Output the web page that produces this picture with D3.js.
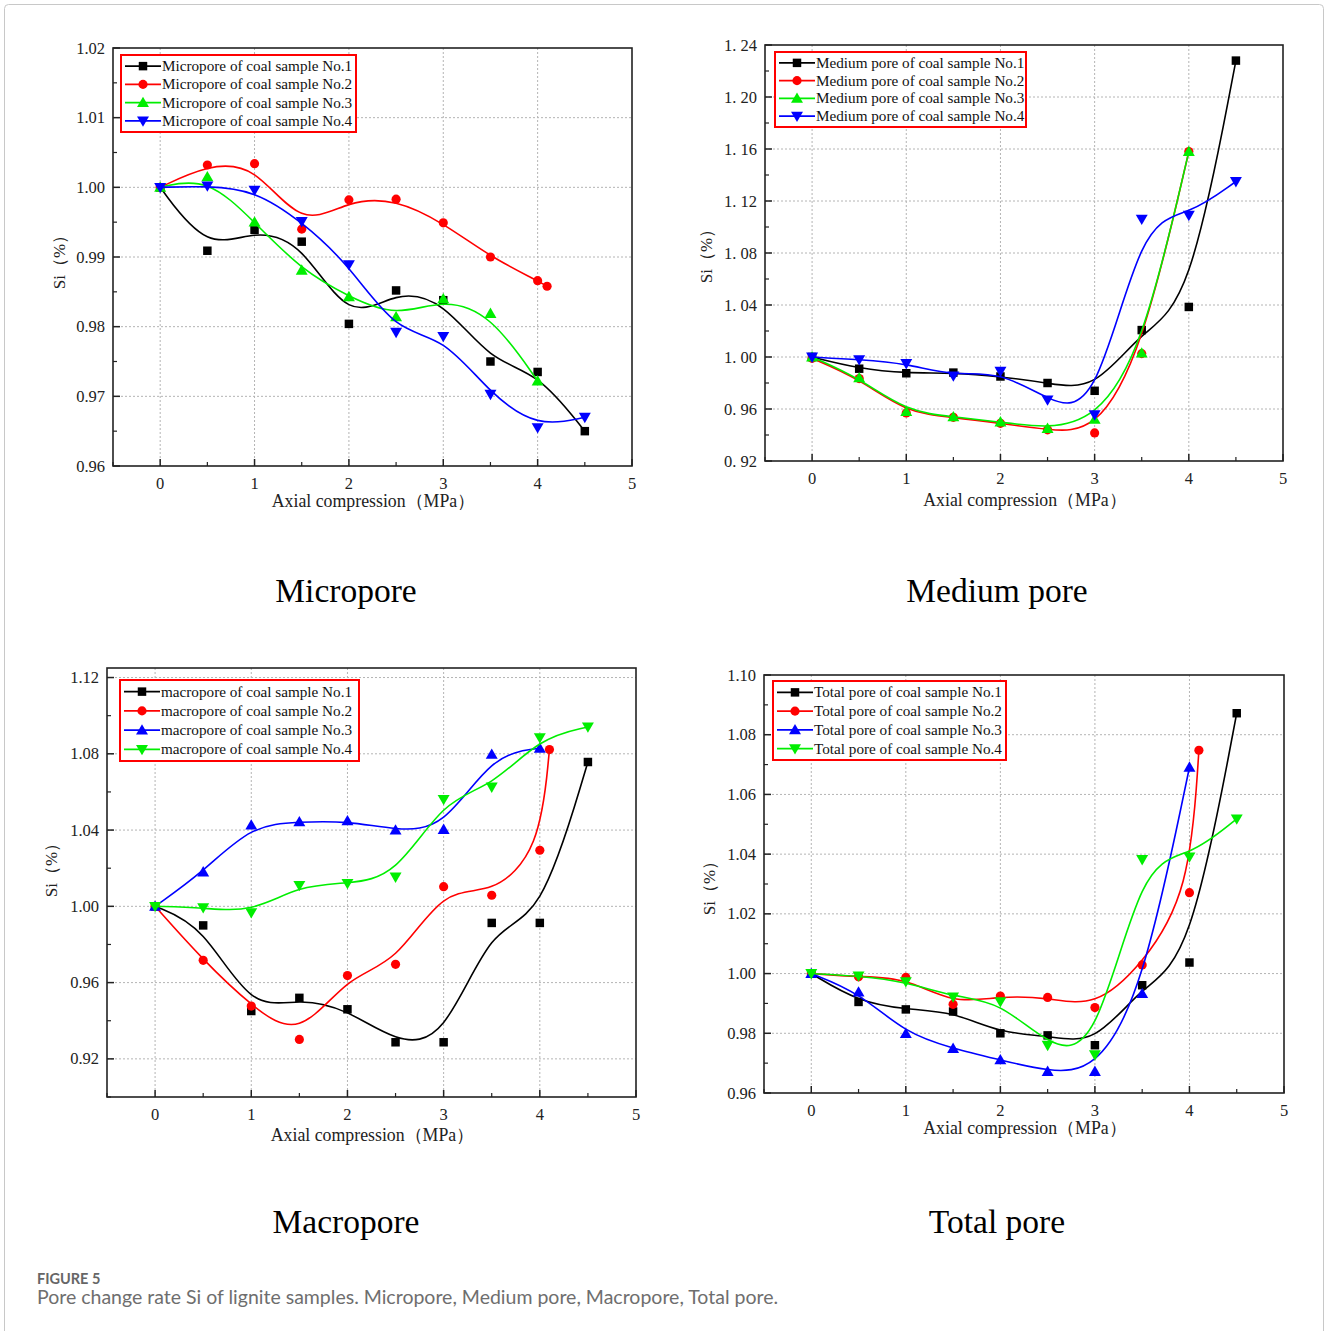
<!DOCTYPE html>
<html>
<head>
<meta charset="utf-8">
<script src="https://cdn.jsdelivr.net/npm/d3@7/dist/d3.min.js"></script>
<style>
  body { margin: 0; background: #fff; }
  svg text { font-family: "Liberation Serif", "Times New Roman", serif; }
</style>
</head>
<body>
<svg id="fig" width="1328" height="1331"></svg>
<script>
// x values (axial compression, MPa)
const pressure = [0, 0.5, 1, 1.5, 2, 2.5, 3, 3.5, 4, 4.5];
const pressureTo4 = [0, 0.5, 1, 1.5, 2, 2.5, 3, 3.5, 4];
const pressureTo41 = [0, 0.5, 1, 1.5, 2, 2.5, 3, 3.5, 4, 4.1];

// micropore Si
const microNo1 = [1.000, 0.9909, 0.9939, 0.9922, 0.9804, 0.9852, 0.9838, 0.9750, 0.9735, 0.9650];
const microNo2 = [1.000, 1.0032, 1.0034, 0.9940, 0.9982, 0.9983, 0.9949, 0.9900, 0.9866, 0.9858];
const microNo3 = [1.000, 1.0015, 0.9950, 0.9881, 0.9843, 0.9814, 0.9840, 0.9819, 0.9722];
const microNo4 = [1.000, 1.0002, 0.9996, 0.9951, 0.9889, 0.9792, 0.9786, 0.9703, 0.9655, 0.9670];

// medium pore Si
const mediumNo1 = [1.000, 0.991, 0.9875, 0.988, 0.985, 0.980, 0.974, 1.0207, 1.0385, 1.228];
const mediumNo2 = [0.999, 0.9834, 0.957, 0.9536, 0.949, 0.944, 0.9416, 1.0026, 1.158];
const mediumNo3 = [1.000, 0.984, 0.958, 0.954, 0.950, 0.945, 0.952, 1.003, 1.158];
const mediumNo4 = [1.000, 0.998, 0.995, 0.9855, 0.989, 0.967, 0.9556, 1.106, 1.109, 1.135];

// macropore Si
const macroNo1 = [1.000, 0.990, 0.9451, 0.952, 0.946, 0.9287, 0.9287, 0.9913, 0.9913, 1.0757];
const macroNo2 = [1.000, 0.9717, 0.9477, 0.9302, 0.9637, 0.9696, 1.0103, 1.0058, 1.0294, 1.0822];
const macroNo3 = [1.000, 1.018, 1.0426, 1.0443, 1.0448, 1.040, 1.0403, 1.0797, 1.0829];
const macroNo4 = [1.000, 0.9993, 0.9967, 1.011, 1.012, 1.0154, 1.0561, 1.0626, 1.0885, 1.0941];

// total pore Si
const totalNo1 = [1.000, 0.9905, 0.988, 0.9873, 0.980, 0.9793, 0.976, 0.9961, 1.0037, 1.0872];
const totalNo2 = [1.000, 0.9989, 0.9987, 0.9897, 0.9925, 0.9920, 0.9886, 1.0029, 1.0271, 1.0748];
const totalNo3 = [1.000, 0.9938, 0.9799, 0.9749, 0.9711, 0.9672, 0.9672, 0.9933, 1.0691];
const totalNo4 = [1.000, 0.9992, 0.9973, 0.9922, 0.9906, 0.976, 0.9728, 1.0382, 1.0391, 1.0518];

// axis ticks
const xTicks = [0, 1, 2, 3, 4, 5];
const microTicks = [0.96, 0.97, 0.98, 0.99, 1.00, 1.01, 1.02];
const mediumTicks = [0.92, 0.96, 1.00, 1.04, 1.08, 1.12, 1.16, 1.20, 1.24];
const macroTicks = [0.92, 0.96, 1.00, 1.04, 1.08, 1.12];
const totalTicks = [0.96, 0.98, 1.00, 1.02, 1.04, 1.06, 1.08, 1.10];

const panelTitles = ["Micropore", "Medium pore", "Macropore", "Total pore"];
const legendPrefixes = ["Micropore", "Medium pore", "macropore", "Total pore"];
const sampleNames = ["No.1", "No.2", "No.3", "No.4"];

const svg = d3.select("#fig");

// card border
svg.append("rect")
  .attr("x", 4.5).attr("y", 4.5).attr("width", 1319).attr("height", 1340)
  .attr("rx", 4)
  .attr("fill", "none").attr("stroke", "#c8c8c8");

const pair = (xs, ys) => ys.map((y, i) => [xs[i], y]);

const panels = [
  {
    box: {left: 113, right: 632, top: 48, bottom: 466}, yDomain: [0.96, 1.02], yTicks: microTicks, minorStep: 0.005,
    fmt: d3.format(".2f"), yTitle: [60, 262], xTitleDy: 41, captionXY: [346, 602],
    legend: {x: 121, y: 55, w: 235, h: 77},
    series: [pair(pressure, microNo1), pair(pressureTo41, microNo2), pair(pressureTo4, microNo3), pair(pressure, microNo4)],
    colors: ["#000000", "#ff0000", "#00ee00", "#0000ff"]
  },
  {
    box: {left: 765, right: 1283, top: 45, bottom: 461}, yDomain: [0.92, 1.24], yTicks: mediumTicks, minorStep: 0.02,
    fmt: d => d3.format(".2f")(d).replace(".", ". "), yTitle: [707, 256], xTitleDy: 45, captionXY: [997, 602],
    legend: {x: 775, y: 52, w: 251, h: 75},
    series: [pair(pressure, mediumNo1), pair(pressureTo4, mediumNo2), pair(pressureTo4, mediumNo3), pair(pressure, mediumNo4)],
    colors: ["#000000", "#ff0000", "#00ee00", "#0000ff"]
  },
  {
    box: {left: 107, right: 636, top: 668, bottom: 1097}, yDomain: [0.90, 1.125], yTicks: macroTicks, minorStep: 0.02,
    fmt: d3.format(".2f"), yTitle: [52, 870], xTitleDy: 44, captionXY: [346, 1233],
    legend: {x: 120, y: 680, w: 239, h: 81},
    series: [pair(pressure, macroNo1), pair(pressureTo41, macroNo2), pair(pressureTo4, macroNo3), pair(pressure, macroNo4)],
    colors: ["#000000", "#ff0000", "#0000ff", "#00ee00"]
  },
  {
    box: {left: 764, right: 1284, top: 675, bottom: 1093}, yDomain: [0.96, 1.10], yTicks: totalTicks, minorStep: 0.01,
    fmt: d3.format(".2f"), yTitle: [710, 888], xTitleDy: 41, captionXY: [997, 1233],
    legend: {x: 773, y: 681, w: 233, h: 79},
    series: [pair(pressure, totalNo1), pair(pressureTo41, totalNo2), pair(pressureTo4, totalNo3), pair(pressure, totalNo4)],
    colors: ["#000000", "#ff0000", "#0000ff", "#00ee00"]
  }
];

const symbols = [
  {type: d3.symbolSquare, size: 72, rot: 0},
  {type: d3.symbolCircle, size: 66, rot: 0},
  {type: d3.symbolTriangle, size: 62, rot: 0},
  {type: d3.symbolTriangle, size: 62, rot: 180}
];

function drawPanel(p, idx) {
  const b = p.box;
  const x = d3.scaleLinear().domain([-0.5, 5]).range([b.left, b.right]);
  const y = d3.scaleLinear().domain(p.yDomain).range([b.bottom, b.top]);
  const g = svg.append("g");

  const clipId = "clip" + idx;
  g.append("clipPath").attr("id", clipId).append("rect")
    .attr("x", b.left).attr("y", b.top).attr("width", b.right - b.left).attr("height", b.bottom - b.top);

  // dotted grid
  g.selectAll(".vgrid").data(xTicks.filter(d => d < 5)).join("line")
    .attr("x1", d => x(d)).attr("x2", d => x(d)).attr("y1", b.top).attr("y2", b.bottom)
    .attr("stroke", "#b4b4b4").attr("stroke-width", 1).attr("stroke-dasharray", "2,2");
  g.selectAll(".hgrid").data(p.yTicks.filter(d => y(d) > b.top + 1 && y(d) < b.bottom - 1)).join("line")
    .attr("x1", b.left).attr("x2", b.right).attr("y1", d => y(d)).attr("y2", d => y(d))
    .attr("stroke", "#b4b4b4").attr("stroke-width", 1).attr("stroke-dasharray", "2,2");

  // frame
  g.append("rect")
    .attr("x", b.left).attr("y", b.top).attr("width", b.right - b.left).attr("height", b.bottom - b.top)
    .attr("fill", "none").attr("stroke", "#222").attr("stroke-width", 1.6);

  // x ticks (inward)
  const xMinor = d3.range(-0.5, 5.01, 0.5).filter(d => Math.abs(d - Math.round(d)) > 0.1);
  g.selectAll(".xt").data(xTicks).join("line")
    .attr("x1", d => x(d)).attr("x2", d => x(d)).attr("y1", b.bottom).attr("y2", b.bottom - 7)
    .attr("stroke", "#222").attr("stroke-width", 1.5);
  g.selectAll(".xm").data(xMinor).join("line")
    .attr("x1", d => x(d)).attr("x2", d => x(d)).attr("y1", b.bottom).attr("y2", b.bottom - 4)
    .attr("stroke", "#222").attr("stroke-width", 1.2);
  g.selectAll(".xl").data(xTicks).join("text")
    .attr("x", d => x(d)).attr("y", b.bottom + 23)
    .attr("text-anchor", "middle").attr("font-size", 16.5).attr("fill", "#222")
    .text(d => d);

  // y ticks (inward)
  const yMinor = d3.range(Math.round(p.yDomain[0] / p.minorStep), Math.round(p.yDomain[1] / p.minorStep) + 1)
    .map(k => k * p.minorStep)
    .filter(v => !p.yTicks.some(t => Math.abs(t - v) < 1e-6));
  g.selectAll(".yt").data(p.yTicks).join("line")
    .attr("x1", b.left).attr("x2", b.left + 7).attr("y1", d => y(d)).attr("y2", d => y(d))
    .attr("stroke", "#222").attr("stroke-width", 1.5);
  g.selectAll(".ym").data(yMinor).join("line")
    .attr("x1", b.left).attr("x2", b.left + 4).attr("y1", d => y(d)).attr("y2", d => y(d))
    .attr("stroke", "#222").attr("stroke-width", 1.2);
  g.selectAll(".yl").data(p.yTicks).join("text")
    .attr("x", b.left - 8).attr("y", d => y(d) + 5.5)
    .attr("text-anchor", "end").attr("font-size", 16.5).attr("fill", "#222")
    .text(d => p.fmt(d));

  // axis titles
  g.append("text")
    .attr("x", (b.left + b.right) / 2 + 1).attr("y", b.bottom + p.xTitleDy)
    .attr("text-anchor", "middle").attr("font-size", 17.8).attr("fill", "#222")
    .text("Axial compression（MPa）");
  g.append("text")
    .attr("transform", `translate(${p.yTitle[0] + 5},${p.yTitle[1] - 4}) rotate(-90)`)
    .attr("text-anchor", "middle").attr("font-size", 17).attr("fill", "#222")
    .text("Si（%）");

  // series: B-spline curve + markers
  const line = d3.line().x(d => x(d[0])).y(d => y(d[1])).curve(d3.curveBasis);
  p.series.forEach((pts, si) => {
    const col = p.colors[si];
    g.append("path").datum(pts)
      .attr("clip-path", `url(#${clipId})`)
      .attr("d", line)
      .attr("fill", "none").attr("stroke", col).attr("stroke-width", 1.6);
    const s = symbols[si];
    g.selectAll(null).data(pts).join("path")
      .attr("transform", d => `translate(${x(d[0])},${y(d[1]) + (s.type === d3.symbolTriangle ? (s.rot ? -1 : 1) : 0)}) rotate(${s.rot})`)
      .attr("d", d3.symbol().type(s.type).size(s.size))
      .attr("fill", col);
  });

  // legend
  const L = p.legend;
  const lg = g.append("g");
  lg.append("rect")
    .attr("x", L.x).attr("y", L.y).attr("width", L.w).attr("height", L.h)
    .attr("fill", "#fff").attr("stroke", "#ff0000").attr("stroke-width", 2);
  const rowH = (L.h - 4) / 4;
  sampleNames.forEach((nm, si) => {
    const cy = L.y + 2 + rowH * (si + 0.5);
    const col = p.colors[si];
    const s = symbols[si];
    lg.append("line")
      .attr("x1", L.x + 4).attr("x2", L.x + 40).attr("y1", cy).attr("y2", cy)
      .attr("stroke", col).attr("stroke-width", 1.8);
    lg.append("path")
      .attr("transform", `translate(${L.x + 22},${cy + (s.type === d3.symbolTriangle ? (s.rot ? -1 : 1) : 0)}) rotate(${s.rot})`)
      .attr("d", d3.symbol().type(s.type).size(s.size))
      .attr("fill", col);
    lg.append("text")
      .attr("x", L.x + 41).attr("y", cy + 5)
      .attr("font-size", 15.2).attr("fill", "#111")
      .text(`${legendPrefixes[idx]} of coal sample ${nm}`);
  });

  // panel caption
  g.append("text")
    .attr("x", p.captionXY[0]).attr("y", p.captionXY[1])
    .attr("text-anchor", "middle").attr("font-size", 33.5).attr("fill", "#000")
    .text(panelTitles[idx]);
}

panels.forEach(drawPanel);

// figure caption
svg.append("text")
  .attr("x", 37).attr("y", 1284)
  .style("font-family", "Lato, 'Open Sans', sans-serif")
  .attr("font-size", 14.5).attr("font-weight", 700).attr("fill", "#666")
  .text("FIGURE 5");
svg.append("text")
  .attr("x", 37).attr("y", 1304)
  .style("font-family", "Lato, 'Open Sans', sans-serif")
  .attr("font-size", 19.5).attr("fill", "#6e6e6e")
  .text("Pore change rate Si of lignite samples. Micropore, Medium pore, Macropore, Total pore.");
</script>
</body>
</html>
